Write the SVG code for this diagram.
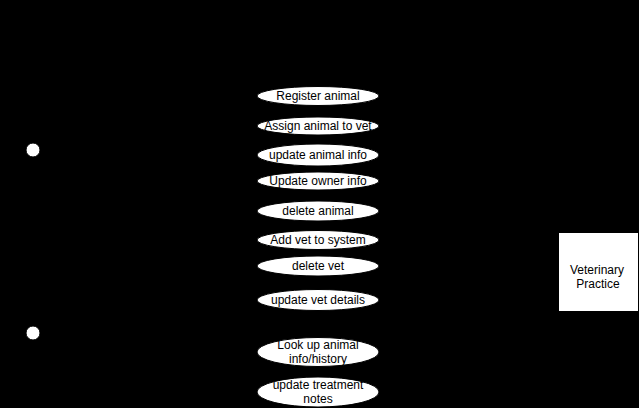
<svg xmlns="http://www.w3.org/2000/svg" width="639" height="408" viewBox="0 0 639 408">
<style>
.uc ellipse{fill:#fff;stroke:#000;stroke-width:1}
text{font-family:"Liberation Sans",Arial,sans-serif;font-size:12px;fill:#000;text-anchor:middle}
.conn line{stroke:#000;stroke-width:1}
.actor circle{fill:#fff;stroke:#000;stroke-width:1}
.actor path{fill:none;stroke:#000;stroke-width:1}
</style>
<rect x="0" y="0" width="639" height="408" fill="#000"/>
<g id="connectors" class="conn">
<line x1="45" y1="175" x2="257" y2="96"/>
<line x1="45" y1="175" x2="257" y2="126"/>
<line x1="45" y1="175" x2="257" y2="155"/>
<line x1="45" y1="175" x2="257" y2="181"/>
<line x1="45" y1="175" x2="257" y2="211"/>
<line x1="45" y1="175" x2="257" y2="240"/>
<line x1="45" y1="175" x2="257" y2="266"/>
<line x1="45" y1="175" x2="257" y2="300"/>
<line x1="45" y1="358" x2="257" y2="352"/>
<line x1="45" y1="358" x2="257" y2="392"/>
<line x1="379" y1="96" x2="558" y2="271"/>
<line x1="379" y1="126" x2="558" y2="271"/>
<line x1="379" y1="155" x2="558" y2="271"/>
<line x1="379" y1="181" x2="558" y2="271"/>
<line x1="379" y1="211" x2="558" y2="271"/>
<line x1="379" y1="240" x2="558" y2="271"/>
<line x1="379" y1="266" x2="558" y2="271"/>
<line x1="379" y1="300" x2="558" y2="271"/>
<line x1="379" y1="352" x2="558" y2="271"/>
<line x1="379" y1="392" x2="558" y2="271"/>
</g>
<g id="actor1" class="actor">
<path d="M33 157 V182 M20 166 H46 M33 182 L21 198 M33 182 L45 198"/>
<circle cx="33" cy="150" r="7"/>
</g>
<g id="actor2" class="actor">
<path d="M33 340 V365 M20 349 H46 M33 365 L21 381 M33 365 L45 381"/>
<circle cx="33" cy="333" r="7"/>
</g>
<g id="uc1" class="uc"><ellipse cx="318" cy="96" rx="61" ry="9.5"/><text x="318" y="100">Register animal</text></g>
<g id="uc2" class="uc"><ellipse cx="318" cy="126" rx="61" ry="9"/><text x="318" y="130">Assign animal to vet</text></g>
<g id="uc3" class="uc"><ellipse cx="318" cy="155" rx="61" ry="11"/><text x="318" y="159">update animal info</text></g>
<g id="uc4" class="uc"><ellipse cx="318" cy="181" rx="61" ry="9"/><text x="318" y="185">Update owner info</text></g>
<g id="uc5" class="uc"><ellipse cx="318" cy="211" rx="61" ry="10"/><text x="318" y="215">delete animal</text></g>
<g id="uc6" class="uc"><ellipse cx="318" cy="240" rx="61" ry="9.5"/><text x="318" y="244">Add vet to system</text></g>
<g id="uc7" class="uc"><ellipse cx="318" cy="266" rx="61" ry="10"/><text x="318" y="270">delete vet</text></g>
<g id="uc8" class="uc"><ellipse cx="318" cy="300" rx="61" ry="10.5"/><text x="318" y="304">update vet details</text></g>
<g id="uc9" class="uc"><ellipse cx="318" cy="352" rx="61" ry="14.5"/><text x="318" y="349">Look up animal</text><text x="318" y="363">info/history</text></g>
<g id="uc10" class="uc"><ellipse cx="318" cy="392" rx="61" ry="15"/><text x="318" y="389">update treatment</text><text x="318" y="403">notes</text></g>
<g id="system">
<rect x="558.5" y="232.5" width="80" height="79" fill="#fff" stroke="#000"/>
<text x="597" y="274">Veterinary</text>
<text x="598" y="288">Practice</text>
</g>
</svg>
